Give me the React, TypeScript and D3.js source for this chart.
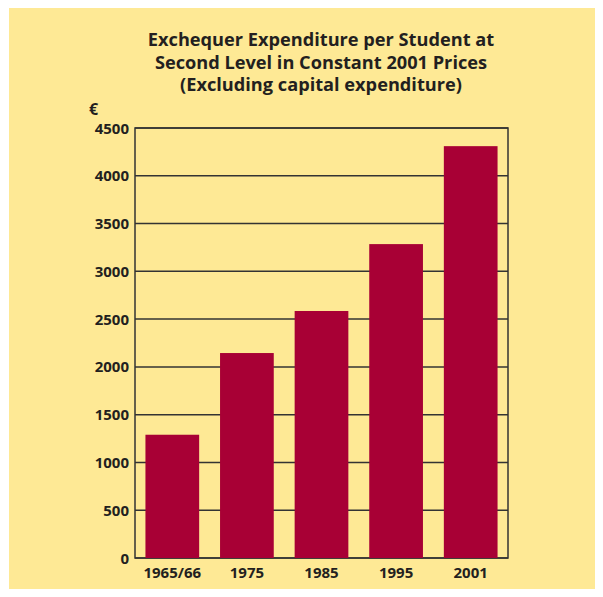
import { useEffect, useRef } from "react";
import * as d3 from "d3";

const years = ["1965/66", "1975", "1985", "1995", "2001"];
const spending = [1290, 2145, 2585, 3285, 4310];
const yTicks = [0, 500, 1000, 1500, 2000, 2500, 3000, 3500, 4000, 4500];
const titleLines = [
  "Exchequer Expenditure per Student at",
  "Second Level in Constant 2001 Prices",
  "(Excluding capital expenditure)",
];

export default function App() {
  const svgRef = useRef<SVGSVGElement>(null);

  useEffect(() => {
    if (!svgRef.current) return;
    const width = 603;
    const height = 597;
    const margin = { top: 128, right: 95, bottom: 39, left: 135 };
    const font = "'Open Sans', 'DejaVu Sans', sans-serif";
    const ink = "#231f20";

    const svg = d3.select(svgRef.current);
    svg.selectAll("*").remove();
    svg.attr("width", width).attr("height", height).attr("viewBox", `0 0 ${width} ${height}`);

    // yellow panel
    svg.append("rect").attr("x", 9).attr("y", 4).attr("width", width - 9).attr("height", height - 4).attr("fill", "#fee995");

    const x = d3
      .scaleBand()
      .domain(years)
      .range([margin.left, width - margin.right])
      .paddingInner(0.28)
      .paddingOuter(0.14);

    const y = d3
      .scaleLinear()
      .domain([0, 4500])
      .range([height - margin.bottom, margin.top]);

    // title
    svg
      .selectAll(".title")
      .data(titleLines)
      .enter()
      .append("text")
      .attr("x", 321)
      .attr("y", (_, i) => 46 + i * 22.7)
      .attr("text-anchor", "middle")
      .attr("font-family", font)
      .attr("font-weight", 700)
      .attr("font-size", 18.2)
      .attr("fill", ink)
      .text((d) => d);

    // gridlines
    svg
      .selectAll(".grid")
      .data(yTicks)
      .enter()
      .append("line")
      .attr("x1", margin.left)
      .attr("x2", width - margin.right)
      .attr("y1", (d) => y(d))
      .attr("y2", (d) => y(d))
      .attr("stroke", "#333")
      .attr("stroke-width", 1.5);

    // frame
    svg
      .append("rect")
      .attr("x", margin.left)
      .attr("y", margin.top)
      .attr("width", width - margin.right - margin.left)
      .attr("height", height - margin.bottom - margin.top)
      .attr("fill", "none")
      .attr("stroke", "#333")
      .attr("stroke-width", 1.5);

    // bars
    svg
      .selectAll(".bar")
      .data(spending)
      .enter()
      .append("rect")
      .attr("x", (_, i) => x(years[i]) || 0)
      .attr("y", (d) => y(d))
      .attr("width", x.bandwidth())
      .attr("height", (d) => y(0) - y(d))
      .attr("fill", "#a80035");

    // y tick labels
    svg
      .selectAll(".ytick")
      .data(yTicks)
      .enter()
      .append("text")
      .attr("x", margin.left - 6)
      .attr("y", (d) => y(d) + 5.5)
      .attr("text-anchor", "end")
      .attr("font-family", font)
      .attr("font-weight", 700)
      .attr("font-size", 15)
      .attr("fill", ink)
      .text((d) => d);

    // x labels
    svg
      .selectAll(".xtick")
      .data(years)
      .enter()
      .append("text")
      .attr("x", (d) => (x(d) || 0) + x.bandwidth() / 2)
      .attr("y", 578)
      .attr("text-anchor", "middle")
      .attr("font-family", font)
      .attr("font-weight", 700)
      .attr("font-size", 15)
      .attr("fill", ink)
      .text((d) => d);

    // unit
    svg
      .append("text")
      .attr("x", 89)
      .attr("y", 115)
      .attr("font-family", font)
      .attr("font-weight", 700)
      .attr("font-size", 16)
      .attr("fill", ink)
      .text("€");
  }, []);

  return (
    <div style={{ margin: -8 }}>
      <svg ref={svgRef} style={{ display: "block" }} />
    </div>
  );
}
